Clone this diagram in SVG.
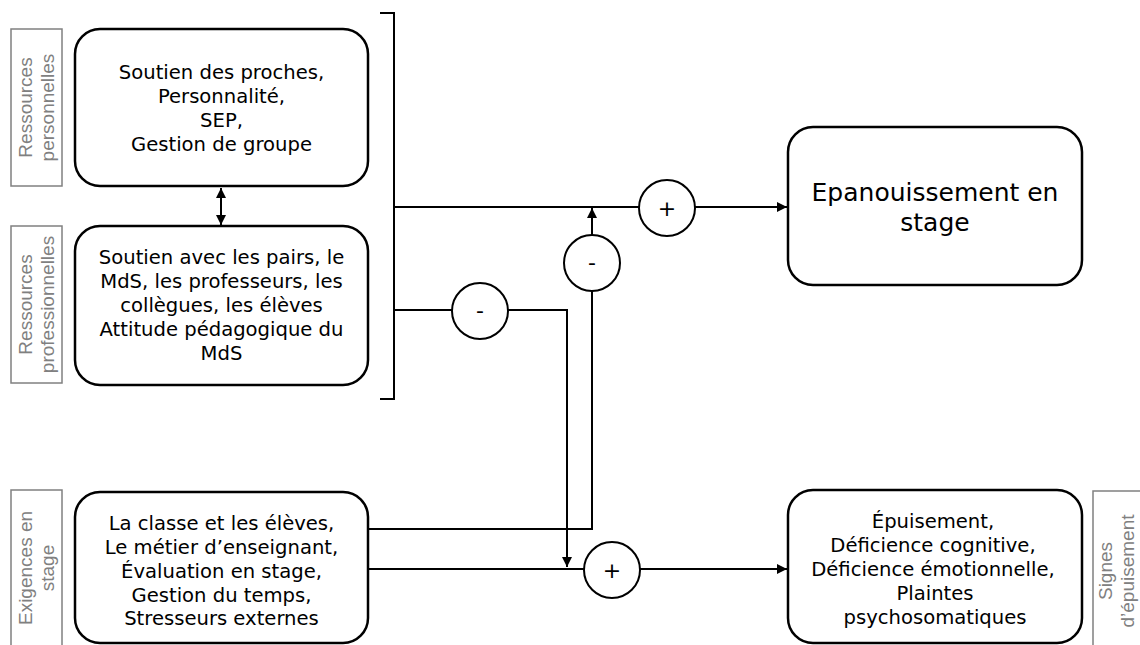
<svg xmlns="http://www.w3.org/2000/svg" width="1140" height="645" viewBox="0 0 1140 645">
<style>
.box{fill:#fff;stroke:#000;stroke-width:2.5}
.lbl{fill:#fff;stroke:#808080;stroke-width:1.5}
.t{font-family:"DejaVu Sans",Verdana,sans-serif;font-size:19.6px;fill:#000;text-anchor:middle}
.tb{font-family:"DejaVu Sans",Verdana,sans-serif;font-size:25px;fill:#000;text-anchor:middle}
.v{font-family:"Liberation Sans",Arial,sans-serif;font-size:19px;fill:#808080;text-anchor:middle}
.ln{fill:none;stroke:#000;stroke-width:2}
.c{fill:#fff;stroke:#000;stroke-width:2}
.s{font-family:"DejaVu Sans",Verdana,sans-serif;font-size:22px;fill:#000;text-anchor:middle}
</style>
<defs>
<marker id="ah" viewBox="0 0 10 10" refX="10" refY="5" markerWidth="5" markerHeight="5" orient="auto-start-reverse" markerUnits="strokeWidth">
<path d="M0,0 L10,5 L0,10 z" fill="#000"/>
</marker>
</defs>
<rect width="1140" height="645" fill="#fff"/>

<g id="label-perso">
<rect class="lbl" x="11" y="29" width="51" height="157"/>
<text class="v" transform="translate(32,107.5) rotate(-90)">Ressources</text>
<text class="v" transform="translate(54,107.5) rotate(-90)">personnelles</text>
</g>
<g id="label-pro">
<rect class="lbl" x="11" y="226" width="51" height="157"/>
<text class="v" transform="translate(32,304.5) rotate(-90)">Ressources</text>
<text class="v" transform="translate(54,304.5) rotate(-90)">professionnelles</text>
</g>
<g id="label-exig">
<rect class="lbl" x="11" y="490" width="51" height="170"/>
<text class="v" transform="translate(32,568) rotate(-90)">Exigences en</text>
<text class="v" transform="translate(54,568) rotate(-90)">stage</text>
</g>
<g id="label-signes">
<rect class="lbl" x="1093" y="491" width="60" height="170"/>
<text class="v" transform="translate(1112,571) rotate(-90)">Signes</text>
<text class="v" transform="translate(1134,571) rotate(-90)">d’épuisement</text>
</g>

<g id="connectors">
<path class="ln" d="M380,13 H394 V399 H380"/>
<line class="ln" x1="221" y1="188" x2="221" y2="225" marker-start="url(#ah)" marker-end="url(#ah)"/>
<line class="ln" x1="394" y1="207" x2="639" y2="207"/>
<line class="ln" x1="695" y1="207" x2="787" y2="207" marker-end="url(#ah)"/>
<line class="ln" x1="394" y1="310" x2="452" y2="310"/>
<path class="ln" d="M508,310 H567 V567" marker-end="url(#ah)"/>
<line class="ln" x1="592" y1="235" x2="592" y2="208" marker-end="url(#ah)"/>
<path class="ln" d="M592,291 V529 H369"/>
<line class="ln" x1="369" y1="569" x2="584" y2="569"/>
<line class="ln" x1="640" y1="569" x2="787" y2="569" marker-end="url(#ah)"/>
</g>

<g id="node-perso">
<rect class="box" x="75" y="29" width="293" height="157" rx="25"/>
<text class="t"><tspan x="221.5" y="79">Soutien des proches,</tspan><tspan x="221.5" y="103">Personnalité,</tspan><tspan x="221.5" y="127">SEP,</tspan><tspan x="221.5" y="151">Gestion de groupe</tspan></text>
</g>
<g id="node-pro">
<rect class="box" x="75" y="226" width="293" height="159" rx="25"/>
<text class="t"><tspan x="221.5" y="264">Soutien avec les pairs, le</tspan><tspan x="221.5" y="288">MdS, les professeurs, les</tspan><tspan x="221.5" y="312">collègues, les élèves</tspan><tspan x="221.5" y="336">Attitude pédagogique du</tspan><tspan x="221.5" y="360">MdS</tspan></text>
</g>
<g id="node-exig">
<rect class="box" x="75" y="492" width="293" height="151" rx="25"/>
<text class="t"><tspan x="221.5" y="530">La classe et les élèves,</tspan><tspan x="221.5" y="554">Le métier d’enseignant,</tspan><tspan x="221.5" y="578">Évaluation en stage,</tspan><tspan x="221.5" y="602">Gestion du temps,</tspan><tspan x="221.5" y="625">Stresseurs externes</tspan></text>
</g>
<g id="node-epan">
<rect class="box" x="788" y="127" width="294" height="158" rx="25"/>
<text class="tb"><tspan x="935" y="201">Epanouissement en</tspan><tspan x="935" y="231">stage</tspan></text>
</g>
<g id="node-epuis">
<rect class="box" x="788" y="490" width="294" height="153" rx="25"/>
<text class="t"><tspan x="933" y="528">Épuisement,</tspan><tspan x="933" y="552">Déficience cognitive,</tspan><tspan x="933" y="576">Déficience émotionnelle,</tspan><tspan x="935" y="600">Plaintes</tspan><tspan x="935" y="624">psychosomatiques</tspan></text>
</g>

<g id="op-plus-top">
<circle class="c" cx="667" cy="208" r="28"/>
<text class="s" x="667" y="216">+</text>
</g>
<g id="op-minus-mid">
<circle class="c" cx="592" cy="263" r="28"/>
<text class="s" x="592" y="270">-</text>
</g>
<g id="op-minus-left">
<circle class="c" cx="480" cy="311" r="28"/>
<text class="s" x="480" y="318">-</text>
</g>
<g id="op-plus-bottom">
<circle class="c" cx="612" cy="570" r="28"/>
<text class="s" x="612" y="578">+</text>
</g>
</svg>
